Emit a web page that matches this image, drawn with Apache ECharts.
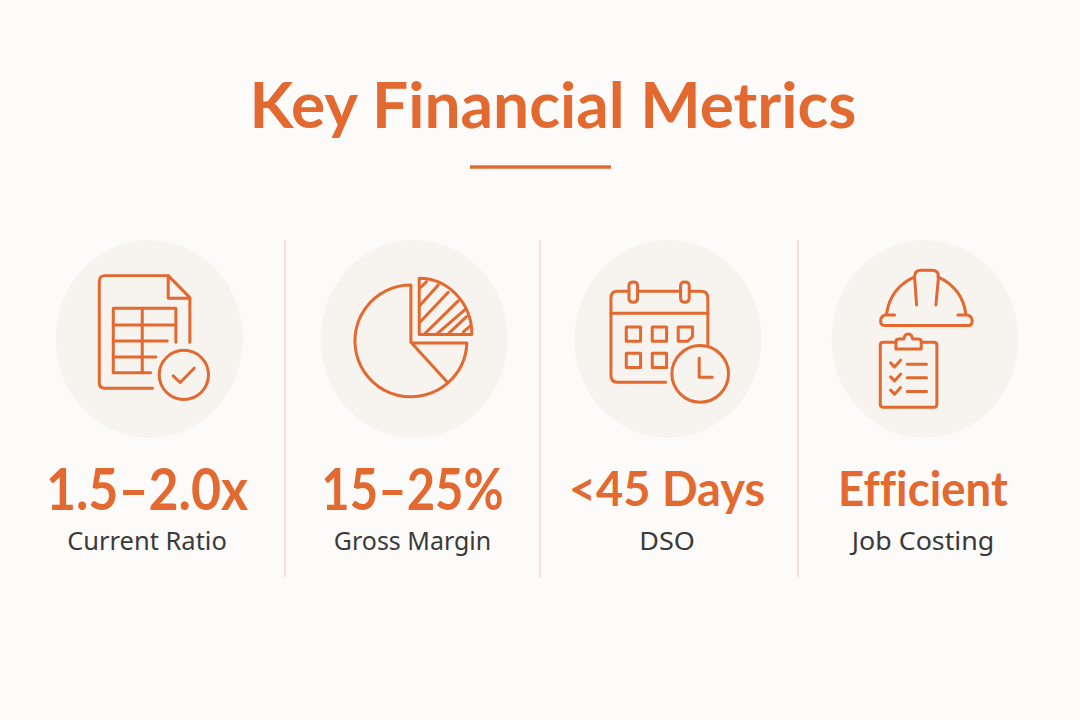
<!DOCTYPE html>
<html>
<head>
<meta charset="utf-8">
<style>html,body{margin:0;padding:0;background:#fdfbf9}#main{width:1080px;height:720px}#main text{font-variant-ligatures:none !important}</style>
<script src="https://cdn.jsdelivr.net/npm/echarts@6/dist/echarts.min.js"></script>
</head>
<body>
<div id="main"></div>
<script>
var titleText = 'Key Financial Metrics';
var metricValues = ['1.5–2.0x', '15–25%', '<45 Days', 'Efficient'];
var metricNames = ['Current Ratio', 'Gross Margin', 'DSO', 'Job Costing'];
var iconNames = ['sheet', 'pie', 'calendar', 'helmet'];

var ORANGE = '#e2692f';
var VALUE_FONT = 'Lato, sans-serif';
var NAME_FONT = '"Noto Sans", sans-serif';

// column layout
var circleX = [149.3, 414, 668, 925];
var textX = [147, 412.5, 667, 923];
var dividerX = [285, 540, 798];
var iconOrigin = [[50, 235], [310, 235], [565, 235], [820, 235]];
var valueSize = [57, 57, 47, 47];
var valueScaleX = [0.91, 0.86, 1, 0.97];
var nameScaleX = [0.98, 0.96, 1.04, 1.03];

// icon outlines, drawn on a 3x grid then scaled down
var iconPaths = {
	sheet: [
		'M308 460 L165 460 Q148 460 148 445 L148 140 Q148 122 165 122 L355 122 L420 188 L420 322',
		'M355 122 L355 190 L420 190',
		'M302 414 L190 414 L190 220 L378 220 L378 322',
		'M190 270 L378 270 M190 318 L352 318 M190 366 L318 366 M277 220 L277 414',
		'M370 423 L391 443 L433 400',
		'M476 420 A74 74 0 1 1 328 420 A74 74 0 1 1 476 420 Z'
	],
	pie: [
		'M303 150 A168 168 0 1 0 414 444 L303 322 Z',
		'M310 324 L471 324 A168 168 0 0 1 414 444',
		'M328 130 A158 168 0 0 1 486 299 L328 299 Z',
		'M333 157 L350 140 M330 212 L385 150 M330 262 L415 172 M345 296 L445 198 M382 296 L468 222 M416 296 L470 245 M460 292 L480 274'
	],
	calendar: [
		'M302 442 L158 442 Q138 442 138 422 L138 190 Q138 169 158 169 L192 169 M220 169 L346 169 M374 169 L408 169 Q429 169 429 190 L429 330',
		'M138 235 L429 235',
		'M192 152 Q192 141 205 141 Q218 141 218 152 L218 190 Q218 202 205 202 Q192 202 192 190 Z',
		'M347 152 Q347 141 360 141 Q373 141 373 152 L373 190 Q373 202 360 202 Q347 202 347 190 Z',
		'M184 276 L227 276 L227 319 L184 319 Z M262 276 L305 276 L305 319 L262 319 Z M340 276 L383 276 L383 305 L368 319 L340 319 Z',
		'M184 355 L227 355 L227 398 L184 398 Z M262 355 L305 355 L305 398 L262 398 Z',
		'M491 417 A85 85 0 1 1 321 417 A85 85 0 1 1 491 417 Z',
		'M403 370 L403 427 L442 427'
	],
	helmet: [
		'M200 238 Q210 160 284 126 M354 126 Q428 160 438 238',
		'M290 210 L284 126 Q284 106 304 106 L336 106 Q356 106 356 126 L348 210',
		'M224 240 L196 240 Q182 244 182 258 Q182 272 196 272 L444 272 Q457 272 457 258 Q457 244 442 240 L414 240',
		'M228 322 L190 322 Q181 322 181 331 L181 508 Q181 517 190 517 L342 517 Q351 517 351 508 L351 331 Q351 322 342 322 L304 322',
		'M228 342 L228 320 Q228 312 238 312 L252 312 Q254 297 265 297 Q276 297 278 312 L294 312 Q304 312 304 320 L304 342 Z',
		'M212 384 L224 396 L242 376 M212 426 L224 438 L242 418 M212 466 L224 478 L242 458',
		'M262 388 L320 388 M262 429 L320 429 M262 470 L320 470'
	]
};

function renderCard(params, api) {
	var i = params.dataIndex;
	var o = iconOrigin[i];
	var children = [{
		type: 'ellipse',
		shape: { cx: circleX[i], cy: 339, rx: 93.5, ry: 99 },
		style: { fill: '#f7f3ef' }
	}];
	iconPaths[iconNames[i]].forEach(function(d) {
		children.push({
			type: 'path',
			x: o[0],
			y: o[1],
			scaleX: 1 / 3,
			scaleY: 1 / 3,
			shape: { pathData: d },
			style: { fill: 'none', stroke: ORANGE, lineWidth: 9, lineCap: 'round', lineJoin: 'round' }
		});
	});
	children.push({
		type: 'text',
		x: textX[i],
		y: 488,
		scaleX: valueScaleX[i],
		style: { text: metricValues[i], fill: ORANGE, font: '700 ' + valueSize[i] + 'px ' + VALUE_FONT, align: 'center', verticalAlign: 'middle' }
	});
	children.push({
		type: 'text',
		x: textX[i],
		y: 540,
		scaleX: nameScaleX[i],
		style: { text: metricNames[i], fill: '#3a3a3a', font: '400 26px ' + NAME_FONT, align: 'center', verticalAlign: 'middle' }
	});
	return { type: 'group', children: children };
}

var chart = echarts.init(document.getElementById('main'), null, { renderer: 'svg' });
var dividers = dividerX.map(function(x) {
	return {
		type: 'line',
		shape: { x1: x, y1: 240, x2: x, y2: 577 },
		style: { stroke: '#f0d9cc', lineWidth: 1.5 }
	};
});
chart.setOption({
	backgroundColor: '#fdfbf9',
	animation: false,
	graphic: [{
		type: 'text',
		x: 553,
		y: 103,
		style: { text: titleText, fill: ORANGE, font: '700 64px ' + VALUE_FONT, align: 'center', verticalAlign: 'middle' }
	}, {
		type: 'line',
		shape: { x1: 470, y1: 167, x2: 611, y2: 167 },
		style: { stroke: ORANGE, lineWidth: 3.5 }
	}].concat(dividers),
	series: [{
		type: 'custom',
		coordinateSystem: 'none',
		data: metricValues,
		renderItem: renderCard
	}]
});
</script>
</body>
</html>
